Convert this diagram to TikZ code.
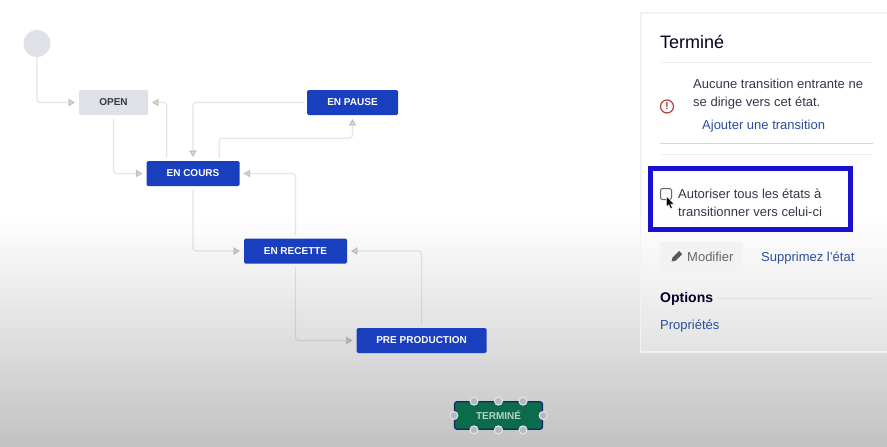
\documentclass[tikz,border=0pt]{standalone}
\usepackage{fontspec}
\setmainfont{Liberation Sans}
\usetikzlibrary{arrows.meta,calc}
\definecolor{wfblue}{HTML}{1A3FBE}
\definecolor{wfgrey}{HTML}{DFE1E6}
\definecolor{wfdark}{HTML}{33384A}
\definecolor{wflink}{HTML}{2A4E9A}
\definecolor{wfgreen}{HTML}{0B6B4A}
\definecolor{hlblue}{HTML}{1A10D0}
\definecolor{handlefill}{HTML}{B4B9C4}
\definecolor{handlering}{HTML}{E4E6EA}
\tikzset{
  statebox/.style={rectangle,rounded corners=1.5pt,minimum height=25pt,inner sep=0pt,font=\bfseries\fontsize{10}{12}\selectfont},
  blue state/.style={statebox,fill=wfblue,text=white},
  conn/.style={draw=black!65,opacity=.15,line width=1.2pt,rounded corners=3pt,shorten >=3.5pt,shorten <=3.5pt,
    -{Triangle[length=7pt,width=8pt,color=black]}},
  paneltext/.style={anchor=base west,inner sep=0pt,text=wfdark,font=\fontsize{13}{15}\selectfont},
  panellink/.style={paneltext,text=wflink},
  rule/.style={draw=#1,line width=1pt},
  handle/.style={circle,draw=handlering,line width=1pt,fill=handlefill,minimum size=8pt,inner sep=0pt}
}
\begin{document}
\begin{tikzpicture}[x=1pt,y=-1pt]
\useasboundingbox (0,0) rectangle (887,447);
% backdrop
\fill[white] (0,0) rectangle (887,218);
\shade[top color=white,bottom color=black!24] (0,217) rectangle (887,447);
% side panel
\fill[black!5] (640,12) rectangle (887,352.5);
\fill[white] (641.5,13.5) rectangle (887,218);
\shade[top color=white,bottom color=black!11] (641.5,217) rectangle (887,350.5);
% states
\node[circle,fill=wfgrey,minimum size=27pt,inner sep=0pt] (start) at (37,43.5) {};
\node[statebox,fill=wfgrey,text=wfdark,minimum width=69pt] (open) at (113.5,102.5) {OPEN};
\node[blue state,minimum width=91pt] (enpause) at (352.5,102.5) {EN PAUSE};
\node[blue state,minimum width=93pt] (encours) at (193,173.5) {EN COURS};
\node[blue state,minimum width=103pt] (enrecette) at (295.5,251) {EN RECETTE};
\node[blue state,minimum width=130pt] (preprod) at (421.6,340.5) {PRE PRODUCTION};
\node[statebox,rounded corners=2.5pt,fill=wfgreen,draw=wfblue!60!black,line width=1.2pt,text=white!70!wfgreen,minimum width=88pt,minimum height=27.5pt] (termine) at (498.5,415.5) {TERMINÉ};
% handles
\foreach \px/\nm in {-24.5/a,0/b,24.5/c}{
  \node[handle] (ht\nm) at ($(termine.north)+(\px,0)$) {};
  \node[handle] (hb\nm) at ($(termine.south)+(\px,0)$) {};
}
\node[handle] (hl) at (termine.west) {};
\node[handle] (hr) at (termine.east) {};
% connectors
\coordinate (cToOpen) at ($(encours.north west)+(20.5,0)$);
\coordinate (cToPause) at ($(encours.north west)+(73,0)$);
\coordinate (cPauseBend) at ($(enpause.south)+(0,23)$);
\draw[conn,shorten <=0pt] (start.south) |- (open.west);
\draw[conn] (cToOpen) |- (open.east);
\draw[conn] (open.south) |- (encours.west);
\draw[conn] (enpause.west) -| (encours.north);
\draw[conn] (cToPause) |- (cPauseBend) -- (enpause.south);
\draw[conn] (enrecette.north) |- (encours.east);
\draw[conn] (encours.south) |- (enrecette.west);
\draw[conn] (enrecette.south) |- (preprod.west);
\draw[conn] (preprod.north) |- (enrecette.east);
% panel contents
\node[paneltext,text=black!85!blue,font=\fontsize{18}{20}\selectfont] (title) at (660,48) {Terminé};
\draw[rule=black!7] (662,62) -- (873,62);
\node[paneltext] (msg1) at (693,88) {Aucune transition entrante ne};
\node[paneltext] (msg2) at (693,106) {se dirige vers cet état.};
\node[circle,draw=red!55!black!75,line width=1.2pt,minimum size=13pt,inner sep=0pt,text=red!55!black!80,font=\bfseries\fontsize{10}{10}\selectfont] (warn) at (667,106.5) {!};
\node[panellink] (addtr) at (702,129) {Ajouter une transition};
\draw[rule=black!16] (660,143) -- (873,143);
\draw[rule=black!7] (662,154) -- (873,154);
% highlight
\draw[hlblue,line width=4.7pt] (650.4,168.4) rectangle (850.4,229.4);
\node[rectangle,draw=black!60,fill=white,rounded corners=2pt,line width=1pt,minimum size=11pt,inner sep=0pt] (check) at (666,194) {};
\node[paneltext] (auto1) at (678,198) {Autoriser tous les états à};
\node[paneltext] (auto2) at (678,216) {transitionner vers celui-ci};
\fill[black,draw=white,line width=.4pt] (666.3,196) -- (666.3,207) -- (668.8,204.6) -- (670.6,208.6) -- (672.3,207.8) -- (670.6,204) -- (674,204) -- cycle;
% buttons
\node[rectangle,rounded corners=2.5pt,fill=black!5,minimum width=83pt,minimum height=28pt] (modbtn) at (701,256) {};
\fill[black!65] (671.5,261.5) -- (672.5,257.5) -- (679,251) -- (682.2,254.2) -- (675.7,260.7) -- cycle;
\node[paneltext,text=black!60] (modif) at (687,261) {Modifier};
\node[panellink] (suppr) at (761,261) {Supprimez l'état};
\node[paneltext,text=black!85!blue,font=\bfseries\fontsize{14}{16}\selectfont] (opts) at (660,302.5) {Options};
\draw[rule=black!12,line width=.8pt] (717,298) -- (873,298);
\node[panellink] (props) at (660,329.5) {Propriétés};
\end{tikzpicture}
\end{document}
